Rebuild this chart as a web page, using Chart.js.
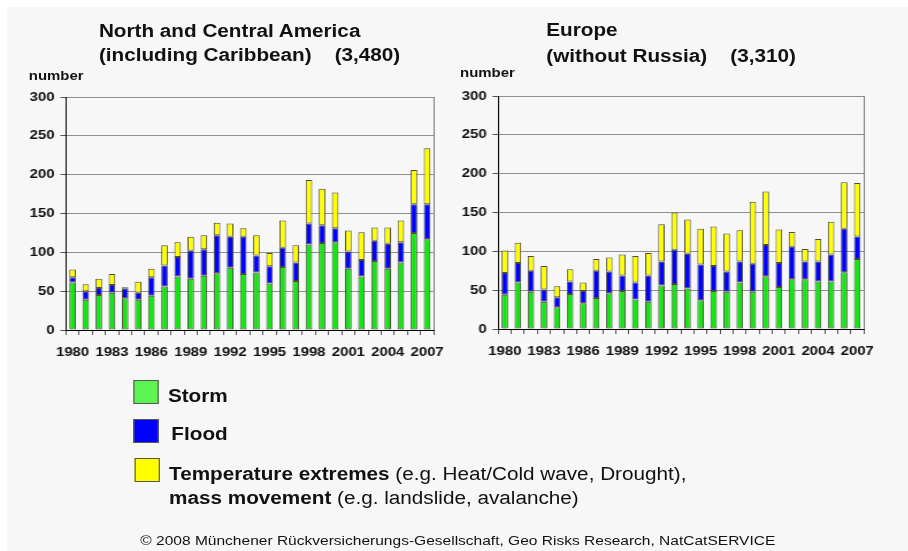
<!DOCTYPE html>
<html>
<head>
<meta charset="utf-8">
<script src="https://cdn.jsdelivr.net/npm/chart.js@4.4.1/dist/chart.umd.min.js"></script>
<style>
  html, body { margin: 0; padding: 0; background: #ffffff; }
  body { width: 908px; height: 551px; overflow: hidden; position: relative; }
  #panel { position: absolute; left: 7px; top: 7px; width: 901px; height: 544px; background: #f7f7f7; }
  /* the slide is drawn narrow, then stretched sideways */
  #page {
    position: absolute; left: 0; top: 0; width: 790px; height: 551px;
    transform: scaleX(1.15); transform-origin: 0 0;
    font-family: "Liberation Sans", Arial, sans-serif; color: #111;
  }
  .t { position: absolute; white-space: pre; }
  .title { font-size: 18px; line-height: 18px; font-weight: bold; }
  .unit { font-size: 13px; line-height: 13px; font-weight: bold; }
  .leg { font-size: 18px; line-height: 18px; font-weight: bold; }
  .leg span { font-weight: normal; }
  .box { position: absolute; width: 22px; height: 24px; border: 1px solid #555; box-sizing: border-box; }
  .foot { font-size: 13.5px; line-height: 14px; }
  canvas { position: absolute; }
</style>
</head>
<body>
<div id="panel"></div>
<div id="page">
  <div class="t title" style="left:86px; top:22px;">North and Central America</div>
  <div class="t title" style="left:86px; top:46px;">(including Caribbean)</div>
  <div class="t title" style="left:291px; top:46px;">(3,480)</div>
  <div class="t unit" style="left:25px; top:69px;">number</div>

  <div class="t title" style="left:475px; top:21px;">Europe</div>
  <div class="t title" style="left:475px; top:47px;">(without Russia)</div>
  <div class="t title" style="left:635px; top:47px;">(3,310)</div>
  <div class="t unit" style="left:400px; top:66px;">number</div>

  <canvas id="chartAmerica" width="396" height="290" style="left:0; top:80px;"></canvas>
  <canvas id="chartEurope" width="380" height="290" style="left:390px; top:79px;"></canvas>

  <div class="box" style="left:116px; top:380px; background:#5cf552;"></div>
  <div class="t leg" style="left:146px; top:387px;">Storm</div>
  <div class="box" style="left:116px; top:419px; background:#0000ff;"></div>
  <div class="t leg" style="left:149px; top:425px;">Flood</div>
  <div class="box" style="left:117px; top:458px; background:#ffff00;"></div>
  <div class="t leg" style="left:147px; top:465px;">Temperature extremes<span> (e.g. Heat/Cold wave, Drought),</span></div>
  <div class="t leg" style="left:147px; top:489px;">mass movement<span> (e.g. landslide, avalanche)</span></div>

  <div class="t foot" id="foot" style="left:122px; top:534px;">© 2008 Münchener Rückversicherungs-Gesellschaft, Geo Risks Research, NatCatSERVICE</div>
</div>

<script>
const years = [];
for (let y = 1980; y <= 2007; y++) years.push(String(y));

const yTicks = [0, 50, 100, 150, 200, 250, 300];

// North and Central America (including Caribbean)
const americaStorm = [61, 39, 45, 48, 41, 39, 44, 56, 69, 66, 70, 73, 80, 72, 74, 60, 81, 63, 110, 112, 113, 79, 69, 89, 79, 87, 125, 117];
const americaFlood = [7, 11, 9, 10, 12, 9, 24, 27, 25, 36, 34, 49, 40, 48, 22, 22, 25, 24, 27, 23, 18, 22, 21, 26, 32, 26, 37, 45];
const americaTemp  = [10, 9, 12, 14, 2, 14, 11, 26, 19, 18, 18, 16, 17, 11, 26, 17, 35, 22, 56, 47, 46, 27, 36, 17, 21, 28, 44, 72];

// Europe (without Russia)
const europeStorm = [44, 60, 48, 35, 28, 45, 33, 40, 46, 49, 38, 35, 56, 58, 52, 37, 49, 48, 60, 48, 68, 54, 64, 64, 61, 61, 73, 90];
const europeFlood = [28, 25, 27, 16, 13, 16, 16, 35, 28, 20, 22, 34, 31, 44, 45, 46, 32, 26, 27, 36, 40, 31, 42, 23, 26, 35, 56, 29];
const europeTemp  = [29, 26, 19, 30, 14, 16, 11, 15, 18, 27, 34, 29, 48, 48, 44, 46, 51, 49, 40, 80, 69, 43, 19, 16, 29, 42, 60, 69];

const seriesNames = ['Storm', 'Flood', 'Temperature extremes, mass movement'];
const seriesColors = ['#14e614', '#0000ff', '#ffff00'];

const tickFont = { family: '"Liberation Sans", Arial, sans-serif', size: 13, weight: 'bold' };

// right edge of the plot frame
const frameRight = {
  id: 'frameRight',
  afterDraw(chart) {
    const a = chart.chartArea, ctx = chart.ctx;
    ctx.save();
    ctx.strokeStyle = '#7a7a7a';
    ctx.lineWidth = 1;
    ctx.beginPath();
    ctx.moveTo(Math.round(a.right) + 0.5, a.top);
    ctx.lineTo(Math.round(a.right) + 0.5, a.bottom);
    ctx.stroke();
    ctx.restore();
  }
};

function makeChart(id, storm, flood, temp, axisWidth, padRight) {
  const parts = [storm, flood, temp];
  return new Chart(document.getElementById(id), {
    type: 'bar',
    data: {
      labels: years,
      datasets: parts.map((vals, i) => ({
        label: seriesNames[i],
        data: vals,
        backgroundColor: seriesColors[i],
        borderColor: '#4a4a3a',
        borderWidth: 1,
        borderSkipped: false,
        barPercentage: 0.5,
        categoryPercentage: 1
      }))
    },
    options: {
      responsive: false,
      animation: false,
      layout: { padding: { top: 17, right: padRight, bottom: 0, left: 0 } },
      plugins: { legend: { display: false }, tooltip: { enabled: false } },
      scales: {
        x: {
          stacked: true,
          afterFit: s => { s.height = 40; },
          grid: { drawOnChartArea: false, drawTicks: true, tickLength: 5, tickColor: '#555', offset: true },
          border: { color: '#000', width: 1 },
          ticks: {
            autoSkip: false, maxRotation: 0, padding: 10,
            color: '#111', font: tickFont,
            callback: (v, i) => (i % 3 === 0 ? years[i] : '')
          }
        },
        y: {
          stacked: true,
          min: 0, max: 300,
          afterFit: s => { s.width = axisWidth; },
          afterBuildTicks: s => { s.ticks = yTicks.map(v => ({ value: v })); },
          grid: { color: '#8f8f8f', lineWidth: 1, drawTicks: true, tickLength: 5, tickColor: '#555' },
          border: { color: '#000', width: 1 },
          ticks: { padding: 5, color: '#111', font: tickFont }
        }
      }
    },
    plugins: [frameRight]
  });
}

makeChart('chartAmerica', americaStorm, americaFlood, americaTemp, 57.4, 8.5);
makeChart('chartEurope', europeStorm, europeFlood, europeTemp, 43.3, 8.7);
</script>
</body>
</html>
